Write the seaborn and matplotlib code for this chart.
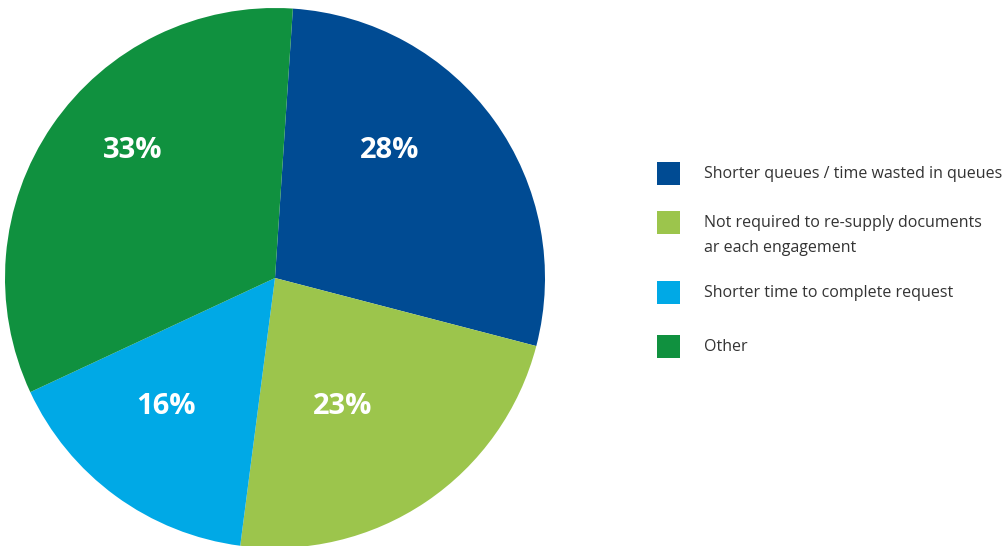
import matplotlib
matplotlib.use("Agg")
import matplotlib.pyplot as plt
from matplotlib.patches import Rectangle
import seaborn as sns

categories = [
    "Shorter queues / time wasted in queues",
    "Not required to re-supply documents\nar each engagement",
    "Shorter time to complete request",
    "Other",
]
values = [28, 23, 16, 33]
pct_labels = ["28%", "23%", "16%", "33%"]
colors = ["#004B93", "#9CC54C", "#00A9E6", "#10913F"]

sns.set_theme(style="white")
plt.rcParams['font.family'] = ['Open Sans', 'DejaVu Sans']

W, H = 1004, 546
fig = plt.figure(figsize=(W / 100, H / 100), dpi=100)
fig.patch.set_facecolor("white")

# pie axes: centre (275, 278) px from top, radius 270 px
cx, cy, r = 275, 278, 270
ax = fig.add_axes([(cx - r) / W, (H - cy - r) / H, 2 * r / W, 2 * r / H])
palette = sns.color_palette(colors)
wedges, _ = ax.pie(values, colors=palette, startangle=86.2, counterclock=False,
                   radius=1.0, wedgeprops=dict(linewidth=0))
ax.set_xlim(-1, 1)
ax.set_ylim(-1, 1)
ax.set_aspect("equal")
ax.axis("off")

# label positions (pixel offsets from centre, y up)
label_pos = [(115, 128), (68, -129), (-109, -129), (-142, 128)]
for (dx, dy), txt in zip(label_pos, pct_labels):
    ax.text(dx / r, dy / r, txt, ha="center", va="center", color="white",
            fontsize=21, fontweight="bold")

# legend drawn manually
sq = 23
rows_y = [173, 222, 292, 346]  # centre of first text line
for yc, col, lab in zip(rows_y, colors, categories):
    fig.add_artist(Rectangle(((657) / W, (H - yc - sq / 2) / H), sq / W, sq / H,
                             transform=fig.transFigure, facecolor=col, edgecolor="none"))
    fig.text(704 / W, (H - yc + 7) / H, lab, ha="left", va="top", fontsize=11.5,
             color="#333333", linespacing=1.75)

fig.savefig("out.png", dpi=100, facecolor="white")
